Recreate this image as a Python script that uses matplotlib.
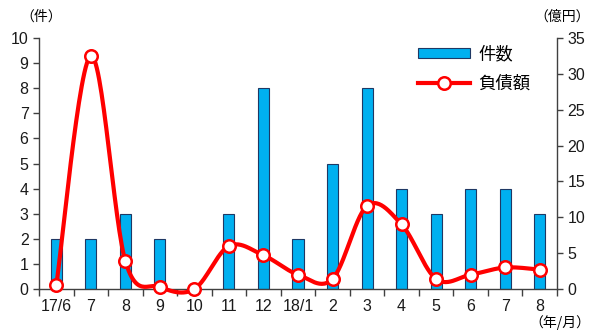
import numpy as np
import matplotlib.pyplot as plt
from matplotlib.patches import Patch
from matplotlib.lines import Line2D

plt.rcParams['font.family'] = ['Liberation Sans', 'Noto Sans CJK JP', 'DejaVu Sans']

months = ['17/6', '7', '8', '9', '10', '11', '12', '18/1', '2', '3', '4', '5', '6', '7', '8']
counts = [2, 2, 3, 2, 0, 3, 8, 2, 5, 8, 4, 3, 4, 4, 3]
debt = [0.5, 32.5, 3.9, 0.3, 0.0, 6.0, 4.7, 2.0, 1.4, 11.6, 9.0, 1.4, 2.0, 3.0, 2.7]

dpi = 100
w, h = 592, 334
fig = plt.figure(figsize=(w / dpi, h / dpi), dpi=dpi)
ax = fig.add_axes([39 / w, 1 - 289 / h, (557 - 39) / w, (289 - 38) / h])
ax2 = ax.twinx()

x = np.arange(len(months))
axis_col = '#404040'
jp = ['Noto Sans CJK JP']

ax.bar(x, counts, width=0.32, color='#00B0F0', edgecolor='#1F3864', linewidth=0.8, zorder=2)


def smooth(xs, ys, n=30):
    # Catmull-Rom spline through the points (smoothed line)
    px = np.concatenate([[xs[0]], xs, [xs[-1]]]).astype(float)
    py = np.concatenate([[ys[0]], ys, [ys[-1]]]).astype(float)
    outx, outy = [], []
    t = np.linspace(0, 1, n)
    for i in range(1, len(px) - 2):
        p0, p1, p2, p3 = [np.array([px[j], py[j]]) for j in (i - 1, i, i + 1, i + 2)]
        c1 = p1 + (p2 - p0) / 6
        c2 = p2 - (p3 - p1) / 6
        b = ((1 - t) ** 3)[:, None] * p1 + (3 * (1 - t) ** 2 * t)[:, None] * c1 \
            + (3 * (1 - t) * t ** 2)[:, None] * c2 + (t ** 3)[:, None] * p2
        outx.extend(b[:, 0])
        outy.extend(b[:, 1])
    return np.array(outx), np.array(outy)


sx, sy = smooth(x, np.array(debt))
ax2.plot(sx, sy, color='#FF0000', linewidth=3, zorder=3, clip_on=False, solid_capstyle='round')
ax2.plot(x, debt, linestyle='none', marker='o', markersize=9, markerfacecolor='white',
         markeredgecolor='#FF0000', markeredgewidth=1.8, zorder=4, clip_on=False)

ax.set_xlim(-0.5, len(months) - 0.5)
ax.set_ylim(0, 10)
ax2.set_ylim(0, 35)
ax.set_yticks(range(0, 11))
ax2.set_yticks(range(0, 36, 5))
ax.set_xticks(x)
ax.set_xticklabels(months)
ax.set_xticks(np.arange(-0.5, len(months), 1), minor=True)

for a in (ax, ax2):
    a.spines['top'].set_visible(False)
    for s in a.spines.values():
        s.set_color(axis_col)
        s.set_linewidth(1)
    a.tick_params(axis='y', colors=axis_col, labelcolor='#1a1a1a', labelsize=11.5,
                  length=4, width=1, direction='out')
ax.spines['right'].set_visible(False)
ax2.spines['left'].set_visible(False)
ax2.spines['bottom'].set_visible(False)
ax.tick_params(axis='x', which='major', length=0, pad=7, labelsize=11.5, labelcolor='#1a1a1a')
ax.tick_params(axis='x', which='minor', length=5, width=1, color=axis_col, direction='out')

# unit labels
fig.text(20 / w, 1 - 17 / h, '（件）', ha='left', va='center', fontsize=10, family=jp)
fig.text(590 / w, 1 - 17 / h, '（億円）', ha='right', va='center', fontsize=10, family=jp)
fig.text(590 / w, 1 - 323 / h, '（年/月）', ha='right', va='center', fontsize=10, family=jp)

handles = [Patch(facecolor='#00B0F0', edgecolor='#1F3864', linewidth=0.8),
           Line2D([], [], color='#FF0000', linewidth=3, marker='o', markersize=9,
                  markerfacecolor='white', markeredgecolor='#FF0000', markeredgewidth=1.8)]
ax2.legend(handles, ['件数', '負債額'], loc='upper left', bbox_to_anchor=(0.695, 0.885),
           bbox_transform=fig.transFigure, frameon=False, handlelength=3.0,
           handleheight=0.55, handletextpad=0.45, labelspacing=0.65, borderaxespad=0,
           prop={'family': jp, 'size': 12.5})

fig.savefig('out.png', dpi=dpi)
